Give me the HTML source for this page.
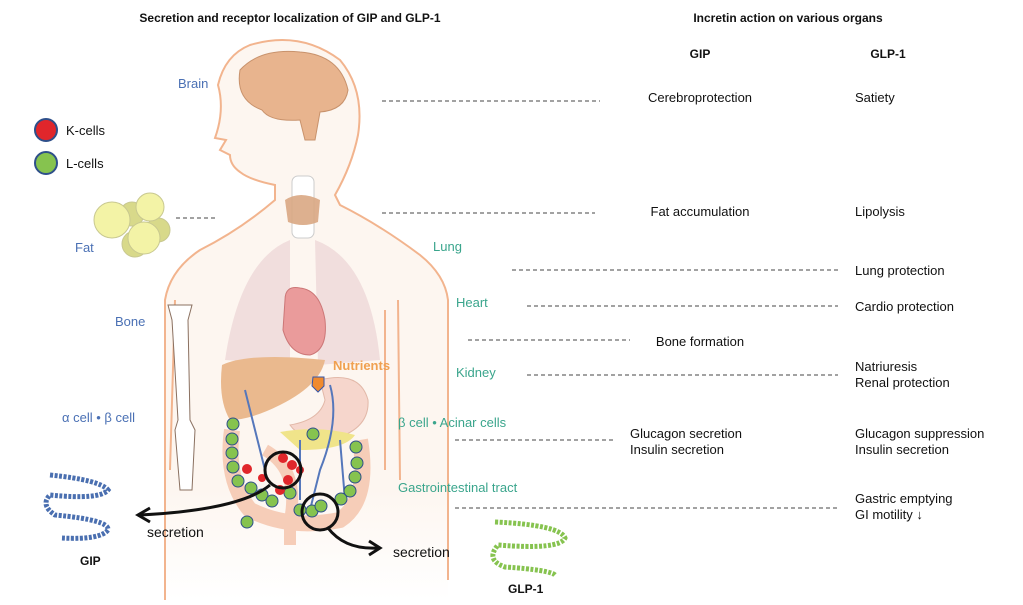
<!DOCTYPE html>
<html><head><meta charset="utf-8"><style>
html,body{margin:0;padding:0;background:#fff;}
svg{display:block;font-family:"Liberation Sans",sans-serif;}
.t{font-size:13px;fill:#111;}
.b{font-size:13px;fill:#4a70b4;}
.g{font-size:13px;fill:#3aa58c;}
.h{font-size:12px;font-weight:bold;fill:#111;}
.d{stroke:#444;stroke-width:1;stroke-dasharray:4,3;fill:none;}
</style></head><body>
<svg width="1023" height="605" viewBox="0 0 1023 605">
<defs><linearGradient id="fade" x1="0" y1="0" x2="0" y2="1"><stop offset="0.8" stop-color="#fdf6f0"/><stop offset="1" stop-color="#fff"/></linearGradient></defs>
<rect width="1023" height="605" fill="#fff"/>
<!-- body -->
<path d="M250,45 Q300,30 340,60 Q365,90 358,135 Q352,165 335,195 L340,205 Q380,225 420,255 Q445,275 448,300 L448,600 L165,600 L165,300 Q170,270 200,250 Q240,230 275,200 L275,185 Q250,180 240,172 Q230,165 230,155 L220,150 L226,140 L215,138 Q225,110 218,85 Q225,55 250,45 Z" fill="url(#fade)"/>
<path d="M165,600 L165,300 Q170,270 200,250 Q240,230 275,200 L275,185 Q250,180 240,172 Q230,165 230,155 L220,150 L226,140 L215,138 Q225,110 218,85 Q225,55 250,45 Q300,30 340,60 Q365,90 358,135 Q352,165 335,195 L340,205 Q380,225 420,255 Q445,275 448,300 L448,580" fill="none" stroke="#f2b48e" stroke-width="2"/>
<!-- arms lines -->
<path d="M175,300 L170,470 M185,310 L182,480 M385,310 L385,470 M398,300 L400,480" stroke="#f2b48e" stroke-width="2" fill="none"/>
<!-- brain -->
<path d="M240,70 Q260,48 300,52 Q340,55 348,90 Q345,110 320,112 L315,140 L305,140 L300,120 Q270,122 262,110 Q235,100 240,70 Z" fill="#e8b48e" stroke="#c8926c"/>
<!-- thyroid/trachea -->
<rect x="292" y="176" width="22" height="62" rx="6" fill="#fff" stroke="#ccc"/>
<path d="M285,200 Q300,190 320,200 L318,222 Q303,228 288,222 Z" fill="#d9a783" opacity=".9"/>
<!-- lungs -->
<path d="M290,240 Q240,260 225,360 L290,365 Z" fill="#f1dedd"/>
<path d="M315,240 Q370,260 380,360 L318,365 Z" fill="#f1dedd"/>
<!-- heart -->
<path d="M285,300 Q285,285 300,288 Q320,290 325,320 Q328,350 310,355 Q290,355 283,330 Z" fill="#ea9b9b" stroke="#cc7777"/>
<!-- liver -->
<path d="M222,365 Q250,352 325,360 Q320,385 280,405 Q250,420 230,420 Q218,400 222,365 Z" fill="#eab98e"/>
<!-- stomach -->
<path d="M320,380 Q360,370 368,400 Q370,430 330,440 Q300,440 290,425 Q320,420 325,400 Z" fill="#f6d6cc" stroke="#e2b8a8"/>
<!-- pancreas -->
<path d="M280,432 Q320,425 355,435 Q345,450 300,450 Z" fill="#f0e48a"/>
<!-- intestines -->
<path d="M232,430 Q225,480 250,510 Q290,530 340,520 Q370,500 360,440" fill="none" stroke="#f6cdb8" stroke-width="16"/>
<path d="M265,450 Q300,470 290,520 L290,545" fill="none" stroke="#f6cdb8" stroke-width="12"/>
<!-- vessels -->
<path d="M245,390 L265,470 M330,385 Q340,420 320,470 L310,510 M300,440 L300,500 M340,440 L345,500" stroke="#5577bb" stroke-width="2" fill="none"/>
<!-- cells -->
<g fill="#86c34f" stroke="#2e4f8a" stroke-width="1">
<circle cx="233" cy="424" r="6"/><circle cx="232" cy="439" r="6"/><circle cx="232" cy="453" r="6"/><circle cx="233" cy="467" r="6"/><circle cx="238" cy="481" r="6"/><circle cx="251" cy="488" r="6"/><circle cx="262" cy="495" r="6"/><circle cx="272" cy="501" r="6"/><circle cx="290" cy="493" r="6"/><circle cx="300" cy="510" r="6"/><circle cx="312" cy="511" r="6"/><circle cx="321" cy="506" r="6"/><circle cx="247" cy="522" r="6"/><circle cx="313" cy="434" r="6"/><circle cx="356" cy="447" r="6"/><circle cx="357" cy="463" r="6"/><circle cx="355" cy="477" r="6"/><circle cx="350" cy="491" r="6"/><circle cx="341" cy="499" r="6"/>
</g>
<g fill="#e0262b"><circle cx="247" cy="469" r="5"/><circle cx="283" cy="458" r="5"/><circle cx="292" cy="465" r="5"/><circle cx="288" cy="480" r="5"/><circle cx="300" cy="470" r="4"/><circle cx="280" cy="490" r="5"/><circle cx="262" cy="478" r="4"/></g>
<circle cx="283" cy="470" r="18" fill="none" stroke="#111" stroke-width="3"/>
<circle cx="320" cy="512" r="18" fill="none" stroke="#111" stroke-width="3"/>
<path d="M270,485 Q240,510 140,515" stroke="#111" stroke-width="3" fill="none"/>
<path d="M150,508 L138,515 L150,522" stroke="#111" stroke-width="3" fill="none"/>
<path d="M328,528 Q345,550 378,548" stroke="#111" stroke-width="3" fill="none"/>
<path d="M369,541 L380,548 L369,555" stroke="#111" stroke-width="3" fill="none"/>
<!-- nutrient arrow -->
<path d="M313,377 L324,377 L324,386 L318,392 L312,386 Z" fill="#f08a2e" stroke="#3355aa"/>
<!-- bone -->
<path d="M168,305 L192,305 L188,320 L190,420 L195,430 L192,490 L180,490 L175,430 L178,420 L172,320 Z" fill="#fff" stroke="#8a7060"/>
<!-- fat -->
<g stroke="#c8c890"><circle cx="158" cy="230" r="12" fill="#d8d98a"/><circle cx="135" cy="244" r="13" fill="#d8d98a"/><circle cx="132" cy="214" r="12" fill="#d8d98a"/><circle cx="112" cy="220" r="18" fill="#f3f3a6"/><circle cx="150" cy="207" r="14" fill="#f3f3a6"/><circle cx="144" cy="238" r="16" fill="#f3f3a6"/></g>
<!-- legend -->
<circle cx="46" cy="130" r="11" fill="#e0262b" stroke="#2e4f8a" stroke-width="2"/>
<circle cx="46" cy="163" r="11" fill="#86c34f" stroke="#2e4f8a" stroke-width="2"/>
<text class="t" x="66" y="135">K-cells</text>
<text class="t" x="66" y="168">L-cells</text>
<!-- peptides -->
<g fill="none" stroke="#4a6fb0" stroke-width="5" stroke-dasharray="3,1.5"><path d="M50,475 Q100,480 108,490 Q100,500 50,495 Q40,505 55,515 Q110,520 108,530 Q100,540 62,538"/></g>
<g fill="none" stroke="#86c34f" stroke-width="5" stroke-dasharray="3,1.5"><path d="M495,522 Q560,525 565,538 Q560,550 498,545 Q485,560 505,567 Q550,570 555,575"/></g>
<text class="h" x="80" y="565">GIP</text>
<text class="h" x="508" y="593">GLP-1</text>
<text class="t" x="147" y="537" style="font-size:14px">secretion</text>
<text class="t" x="393" y="557" style="font-size:14px">secretion</text>
<!-- titles -->
<text class="h" x="290" y="22" text-anchor="middle">Secretion and receptor localization of GIP and GLP-1</text>
<text class="h" x="788" y="22" text-anchor="middle">Incretin action on various organs</text>
<text class="h" x="700" y="58" text-anchor="middle">GIP</text>
<text class="h" x="888" y="58" text-anchor="middle">GLP-1</text>
<!-- organ labels -->
<text class="b" x="178" y="88">Brain</text>
<text class="b" x="75" y="252">Fat</text>
<text class="b" x="115" y="326">Bone</text>
<text class="b" x="62" y="422">α cell • β cell</text>
<text class="g" x="433" y="251">Lung</text>
<text class="g" x="456" y="307">Heart</text>
<text class="g" x="456" y="377">Kidney</text>
<text class="g" x="398" y="427">β cell • Acinar cells</text>
<text class="g" x="398" y="492">Gastrointestinal tract</text>
<text x="333" y="370" style="font-size:13px;font-weight:bold;fill:#f0a050">Nutrients</text>
<!-- dashes -->
<path class="d" d="M382,101H600 M382,213H595 M176,218H215 M512,270H838 M527,306H838 M468,340H630 M527,375H838 M455,440H615 M455,508H838"/>
<!-- effects -->
<text class="t" x="700" y="102" text-anchor="middle">Cerebroprotection</text>
<text class="t" x="855" y="102">Satiety</text>
<text class="t" x="700" y="216" text-anchor="middle">Fat accumulation</text>
<text class="t" x="855" y="216">Lipolysis</text>
<text class="t" x="855" y="275">Lung protection</text>
<text class="t" x="855" y="311">Cardio protection</text>
<text class="t" x="700" y="346" text-anchor="middle">Bone formation</text>
<text class="t" x="855" y="371">Natriuresis</text>
<text class="t" x="855" y="387">Renal protection</text>
<text class="t" x="630" y="438">Glucagon secretion</text>
<text class="t" x="630" y="454">Insulin secretion</text>
<text class="t" x="855" y="438">Glucagon suppression</text>
<text class="t" x="855" y="454">Insulin secretion</text>
<text class="t" x="855" y="503">Gastric emptying</text>
<text class="t" x="855" y="519">GI motility ↓</text>
</svg>
</body></html>
